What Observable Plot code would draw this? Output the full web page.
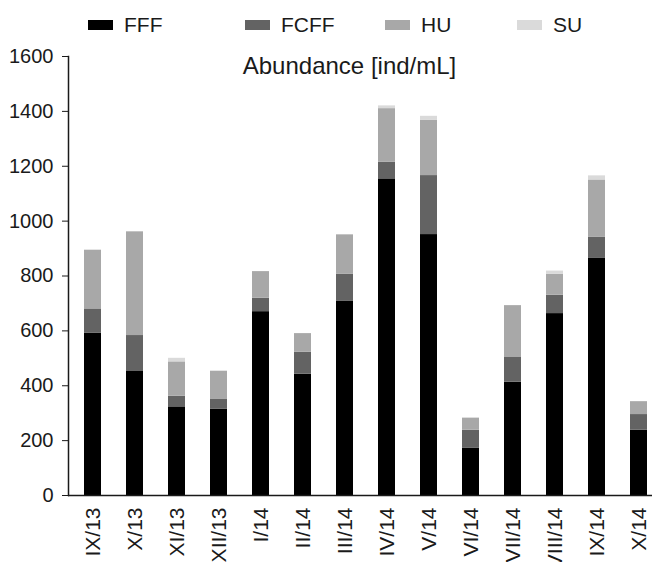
<!DOCTYPE html>
<html>
<head>
<meta charset="utf-8">
<script src="https://cdn.jsdelivr.net/npm/d3@7"></script>
<script src="https://cdn.jsdelivr.net/npm/@observablehq/plot@0.6"></script>
<style>
  html, body { margin: 0; padding: 0; background: #fff; }
  body { width: 652px; height: 562px; overflow: hidden; font-family: "Liberation Sans", Arial, sans-serif; color: #1a1a1a; }
  #legend { position: relative; height: 40px; width: 652px; }
  .item { position: absolute; top: 13px; height: 24px; display: flex; align-items: center; font-size: 21px; }
  .sw { width: 25px; height: 10px; margin-right: 11px; }
  #chart svg { display: block; }
</style>
</head>
<body>
<div id="legend"></div>
<div id="chart"></div>
<script>
const months = ["IX/13","X/13","XI/13","XII/13","I/14","II/14","III/14","IV/14","V/14","VI/14","VII/14","VIII/14","IX/14","X/14"];
const series = ["FFF","FCFF","HU","SU"];
const colors = ["#000000","#636363","#a8a8a8","#dadada"];
const FFF  = [592, 452, 323, 315, 670, 442, 709, 1154, 951, 173, 413, 663, 864, 238];
const FCFF = [ 88, 131,  39,  35,  49,  80,  97,   61, 215,  65,  90,  67,  78,  57];
const HU   = [214, 378, 125, 103,  97,  68, 144,  195, 201,  44, 189,  76, 208,  47];
const SU   = [  0,   0,  13,   0,   0,   0,   0,   10,  15,   0,   0,  12,  15,   0];
const yTicks = [0, 200, 400, 600, 800, 1000, 1200, 1400, 1600];
const titleText = ["Abundance [ind/mL]"];

const values = {FFF, FCFF, HU, SU};
const data = [];
series.forEach(s => months.forEach((m, i) => data.push({month: m, series: s, value: values[s][i]})));

// legend
const legend = document.getElementById("legend");
const legendLeft = [88, 245, 385, 517];
series.forEach((s, i) => {
  const it = document.createElement("div");
  it.className = "item";
  it.style.left = legendLeft[i] + "px";
  const sw = document.createElement("span");
  sw.className = "sw";
  sw.style.background = colors[i];
  const tx = document.createElement("span");
  tx.textContent = s;
  it.appendChild(sw); it.appendChild(tx);
  legend.appendChild(it);
});

const chart = Plot.plot({
  width: 652,
  height: 522,
  marginLeft: 68,
  marginRight: 0,
  marginTop: 16,
  marginBottom: 67,
  style: {fontFamily: '"Liberation Sans", Arial, sans-serif', color: "#1a1a1a", background: "#fff", overflow: "visible"},
  x: {domain: months, range: [70, 660.5], paddingInner: 0.6, paddingOuter: 0.3, axis: null},
  y: {domain: [0, 1600], axis: null},
  color: {domain: series, range: colors},
  marks: [
    Plot.barY(data, {x: "month", y: "value", fill: "series", order: null}),
    Plot.frame({anchor: "left", stroke: "#1a1a1a", strokeWidth: 1.5}),
    Plot.ruleY([0], {stroke: "#1a1a1a", strokeWidth: 1.5}),
    Plot.axisY({ticks: yTicks, tickSize: 6, tickPadding: 9, fontSize: 20, tickFormat: d => String(d), stroke: "#1a1a1a", label: null}),
    Plot.axisX({tickRotate: -90, tickSize: 0, tickPadding: 12, fontSize: 21, label: null}),
    Plot.text(titleText, {text: d => d, frameAnchor: "top", dx: -11, dy: 0, fontSize: 24, fill: "#1a1a1a"})
  ]
});
document.getElementById("chart").appendChild(chart);
</script>
</body>
</html>
